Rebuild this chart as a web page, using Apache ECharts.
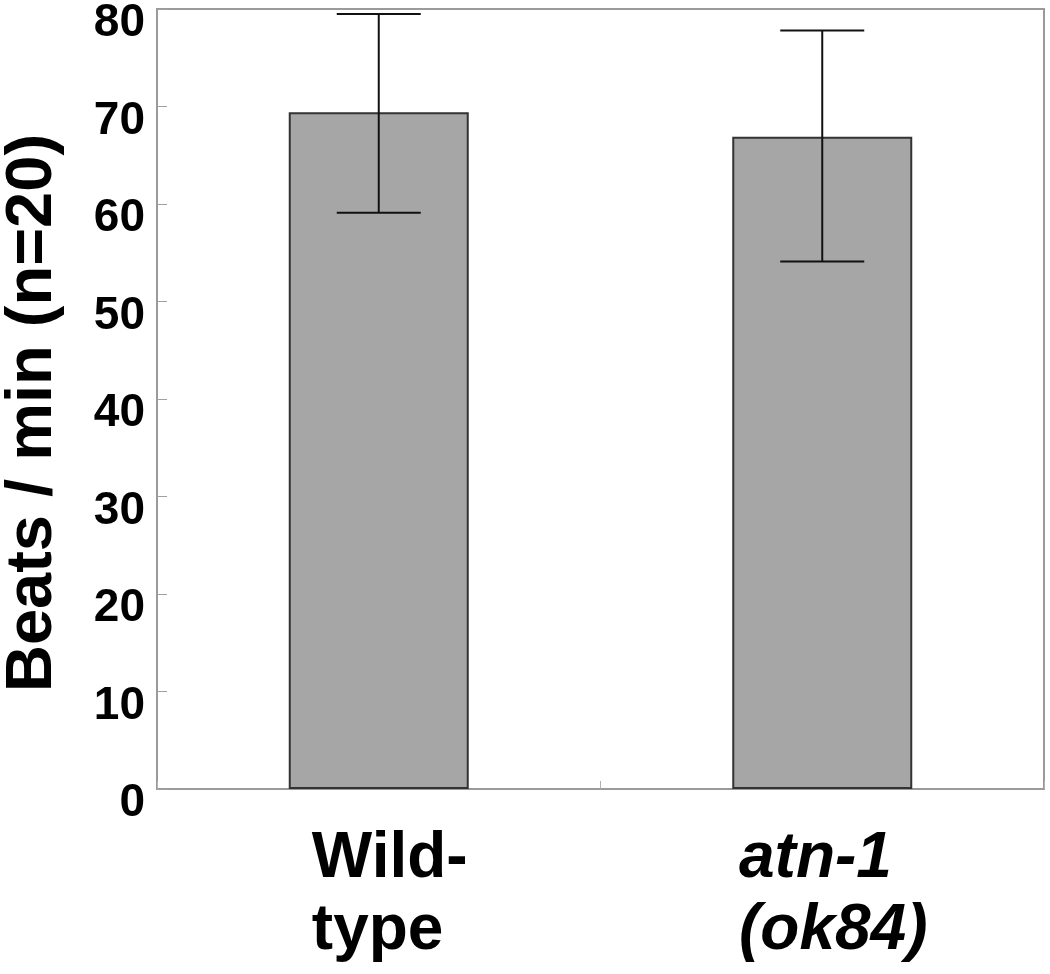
<!DOCTYPE html>
<html>
<head>
<meta charset="utf-8">
<script src="https://cdn.jsdelivr.net/npm/echarts@6/dist/echarts.min.js"></script>
<style>
html,body{margin:0;padding:0;background:#fff;}
#chart{width:1050px;height:974px;}
</style>
</head>
<body>
<div id="chart"></div>
<script>
// Data
const categories = ['Wild-\ntype', 'atn-1\n(ok84)'];
const italicCategory = [false, true];
const means = [69.4, 66.9];
const errLow = [59.1, 54.1];
const errHigh = [79.5, 77.8];
const yTicks = [0, 10, 20, 30, 40, 50, 60, 70, 80];
const yTitle = 'Beats / min (n=20)';

const FONT = '"Liberation Sans", Arial, sans-serif';
const chart = echarts.init(document.getElementById('chart'));

const errData = categories.map((c, i) => [i, errLow[i], errHigh[i]]);

chart.setOption({
  animation: false,
  backgroundColor: '#fff',
  grid: {
    left: 157, right: 6, top: 9, bottom: 185,
    containLabel: false, outerBoundsMode: 'none',
    show: true, borderColor: '#9a9a9a', borderWidth: 2, backgroundColor: 'transparent'
  },
  xAxis: {
    type: 'category',
    data: categories,
    axisLine: { show: true, lineStyle: { color: '#9a9a9a', width: 2 } },
    axisTick: { show: true, inside: true, length: 8, lineStyle: { color: '#b0b0b0', width: 1 } },
    axisLabel: {
      color: '#000', fontFamily: FONT, fontWeight: 'bold', fontSize: 64,
      lineHeight: 72, margin: 34,
      formatter: function (v, idx) {
        const tag = italicCategory[idx] ? 'i' : 'n';
        return v.split('\n').map(s => '{' + tag + '|' + s + '}').join('\n');
      },
      rich: {
        n: { align: 'left', fontFamily: FONT, fontWeight: 'bold', fontSize: 64, lineHeight: 72, color: '#000', padding: [0, 0, 0, 22] },
        i: { align: 'left', fontFamily: FONT, fontWeight: 'bold', fontStyle: 'italic', fontSize: 64, lineHeight: 72, color: '#000', padding: [0, 0, 0, 22] }
      }
    },
    splitLine: { show: false }
  },
  yAxis: {
    type: 'value', min: yTicks[0], max: yTicks[yTicks.length - 1], interval: 10,
    name: yTitle, nameLocation: 'middle', nameRotate: 90, nameGap: 91,
    nameTextStyle: { color: '#000', fontFamily: FONT, fontWeight: 'bold', fontSize: 65, padding: [0, 28, 0, 0] },
    axisLine: { show: true, lineStyle: { color: '#9a9a9a', width: 2 } },
    axisTick: { show: true, inside: true, length: 10, lineStyle: { color: '#a0a0a0', width: 1 } },
    axisLabel: {
      color: '#000', fontFamily: FONT, fontWeight: 'bold', fontSize: 46,
      margin: 12, verticalAlign: 'top', lineHeight: 29,
      formatter: v => String(v)
    },
    splitLine: { show: false }
  },
  series: [
    {
      type: 'bar',
      data: means,
      barWidth: 180,
      itemStyle: { color: '#a6a6a6', borderColor: '#333', borderWidth: 2 },
      z: 2
    },
    {
      type: 'custom',
      data: errData,
      z: 5,
      renderItem: function (params, api) {
        const x = api.value(0);
        const lo = api.coord([x, api.value(1)]);
        const hi = api.coord([x, api.value(2)]);
        const half = 42;
        const style = { stroke: '#111', lineWidth: 2 };
        return {
          type: 'group',
          children: [
            { type: 'line', shape: { x1: lo[0], y1: lo[1], x2: hi[0], y2: hi[1] }, style: style },
            { type: 'line', shape: { x1: hi[0] - half, y1: hi[1], x2: hi[0] + half, y2: hi[1] }, style: style },
            { type: 'line', shape: { x1: lo[0] - half, y1: lo[1], x2: lo[0] + half, y2: lo[1] }, style: style }
          ]
        };
      }
    }
  ]
});
</script>
</body>
</html>
